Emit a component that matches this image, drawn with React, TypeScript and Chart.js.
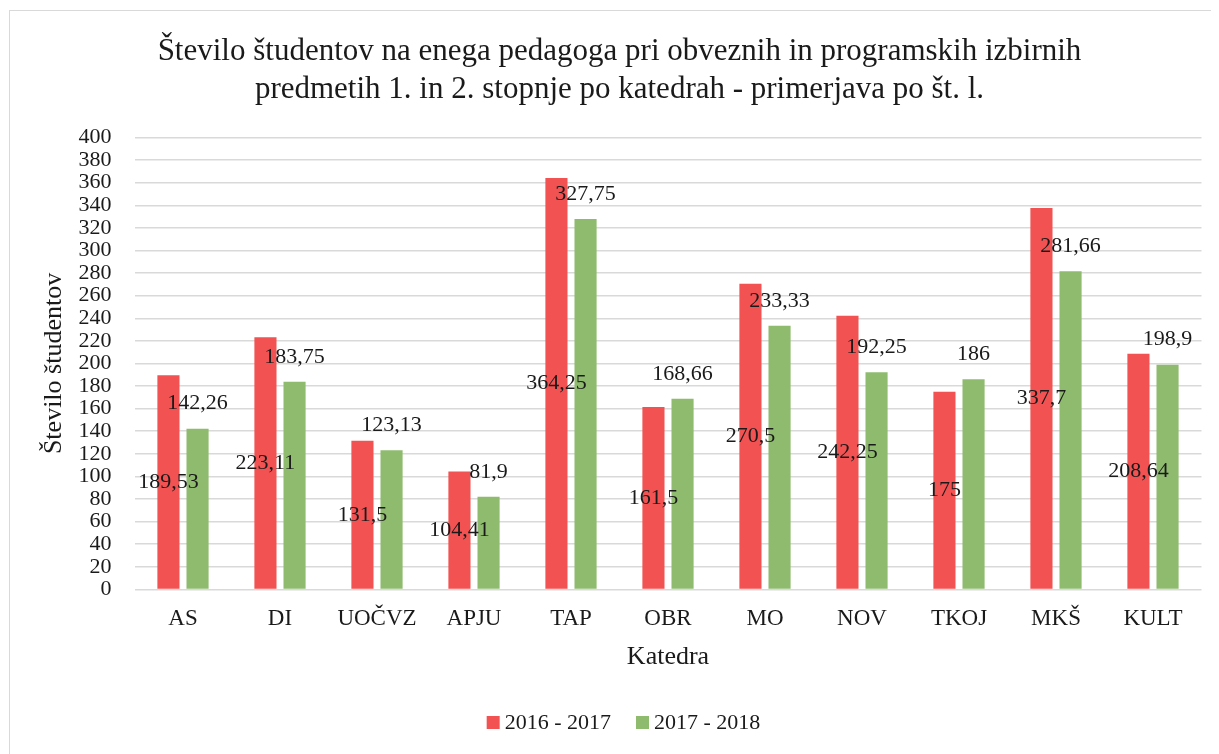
import React, { useEffect, useRef } from "react";
import { Chart, registerables } from "chart.js";

Chart.register(...registerables);

const categories = ["AS", "DI", "UOČVZ", "APJU", "TAP", "OBR", "MO", "NOV", "TKOJ", "MKŠ", "KULT"];
const values2016 = [189.53, 223.11, 131.5, 104.41, 364.25, 161.5, 270.5, 242.25, 175, 337.7, 208.64];
const values2017 = [142.26, 183.75, 123.13, 81.9, 327.75, 168.66, 233.33, 192.25, 186, 281.66, 198.9];
const seriesNames = ["2016 - 2017", "2017 - 2018"];
const titleLines = [
  "Število študentov na enega pedagoga pri obveznih in programskih izbirnih",
  "predmetih 1. in 2. stopnje po katedrah - primerjava po št. l.",
];
const yAxisTitle = "Število študentov";
const xAxisTitle = "Katedra";
const yMin = 0;
const yMax = 400;
const yStep = 20;

const FONT = "'Liberation Serif', 'Times New Roman', serif";
const TEXT = "#1a1a1a";
const RED = "#F25252";
const GREEN = "#8FBB6E";

const fmt = (v: number) => String(v).replace(".", ",");

const dataLabelPlugin = {
  id: "dataLabels",
  afterDatasetsDraw(chart: any) {
    const ctx = chart.ctx;
    ctx.save();
    ctx.font = `22px ${FONT}`;
    ctx.fillStyle = TEXT;
    ctx.textAlign = "center";
    ctx.textBaseline = "middle";
    chart.data.datasets.forEach((ds: any, di: number) => {
      const meta = chart.getDatasetMeta(di);
      meta.data.forEach((el: any, i: number) => {
        const v = ds.data[i];
        const y = di === 0 ? (el.y + el.base) / 2 : el.y - 25;
        ctx.fillText(fmt(v), el.x, y);
      });
    });
    ctx.restore();
  },
};

// Legend drawn in the bottom band: square swatch, 5px gap, text, 25px between items
const bottomLegendPlugin = {
  id: "bottomLegend",
  afterDraw(chart: any) {
    const ctx = chart.ctx;
    ctx.save();
    ctx.font = `22px ${FONT}`;
    ctx.textBaseline = "middle";
    ctx.textAlign = "left";
    const box = 13;
    const gap = 5;
    const itemGap = 25;
    const items = chart.data.datasets.map((ds: any) => ({
      text: ds.label,
      color: ds.backgroundColor,
      w: ctx.measureText(ds.label).width,
    }));
    const total =
      items.reduce((s: number, it: any) => s + box + gap + it.w, 0) + itemGap * (items.length - 1);
    const cx = 613.5;
    const cy = 711.5;
    let x = cx - total / 2;
    items.forEach((it: any) => {
      ctx.fillStyle = it.color;
      ctx.fillRect(x, cy - box / 2, box, box);
      x += box + gap;
      ctx.fillStyle = TEXT;
      ctx.fillText(it.text, x, cy + 1);
      x += it.w + itemGap;
    });
    ctx.restore();
  },
};

export default function App() {
  const ref = useRef<HTMLCanvasElement | null>(null);

  useEffect(() => {
    if (!ref.current) return;
    const chart = new Chart(ref.current, {
      type: "bar",
      data: {
        labels: categories,
        datasets: [
          { label: seriesNames[0], data: values2016, backgroundColor: RED, borderWidth: 0 },
          { label: seriesNames[1], data: values2017, backgroundColor: GREEN, borderWidth: 0 },
        ],
      },
      options: {
        animation: false,
        responsive: false,
        maintainAspectRatio: false,
        datasets: { bar: { categoryPercentage: 0.6, barPercentage: 0.76 } },
        layout: { padding: { left: 27.5, right: 30.5, top: 0, bottom: 55 } },
        plugins: {
          title: {
            display: true,
            text: titleLines,
            color: TEXT,
            font: { family: FONT, size: 31, weight: "normal", lineHeight: 38 / 31 },
            padding: { top: 21.5, bottom: 29 },
          },
          legend: { display: false },
          tooltip: { enabled: false },
        },
        scales: {
          x: {
            grid: { display: false, drawTicks: false },
            border: { display: false },
            ticks: { color: TEXT, font: { family: FONT, size: 23 }, padding: 16, maxRotation: 0 },
            title: {
              display: true,
              text: xAxisTitle,
              color: TEXT,
              font: { family: FONT, size: 26 },
              padding: { top: 8, bottom: 27.5 },
            },
            afterFit(scale: any) {
              scale.height = 110.6;
            },
          },
          y: {
            min: yMin,
            max: yMax,
            grid: { color: "#d9d9d9", lineWidth: 1.5, drawTicks: false },
            border: { display: false },
            ticks: {
              stepSize: yStep,
              autoSkip: false,
              color: TEXT,
              font: { family: FONT, size: 22 },
              padding: 23,
            },
            title: {
              display: true,
              text: yAxisTitle,
              color: TEXT,
              font: { family: FONT, size: 26 },
              padding: { top: 1.4, bottom: 9 },
            },
            afterFit(scale: any) {
              scale.width = 97;
            },
          },
        },
      },
      plugins: [dataLabelPlugin, bottomLegendPlugin],
    } as any);
    return () => chart.destroy();
  }, []);

  return (
    <div style={{ position: "relative", width: 1211, height: 746, overflow: "hidden" }}>
      <div
        style={{
          position: "absolute",
          left: 1,
          top: 2,
          width: 1222,
          height: 800,
          border: "1.5px solid #d9d9d9",
          background: "#fff",
        }}
      >
        <canvas ref={ref} width={1222} height={744} style={{ display: "block" }} />
      </div>
    </div>
  );
}
